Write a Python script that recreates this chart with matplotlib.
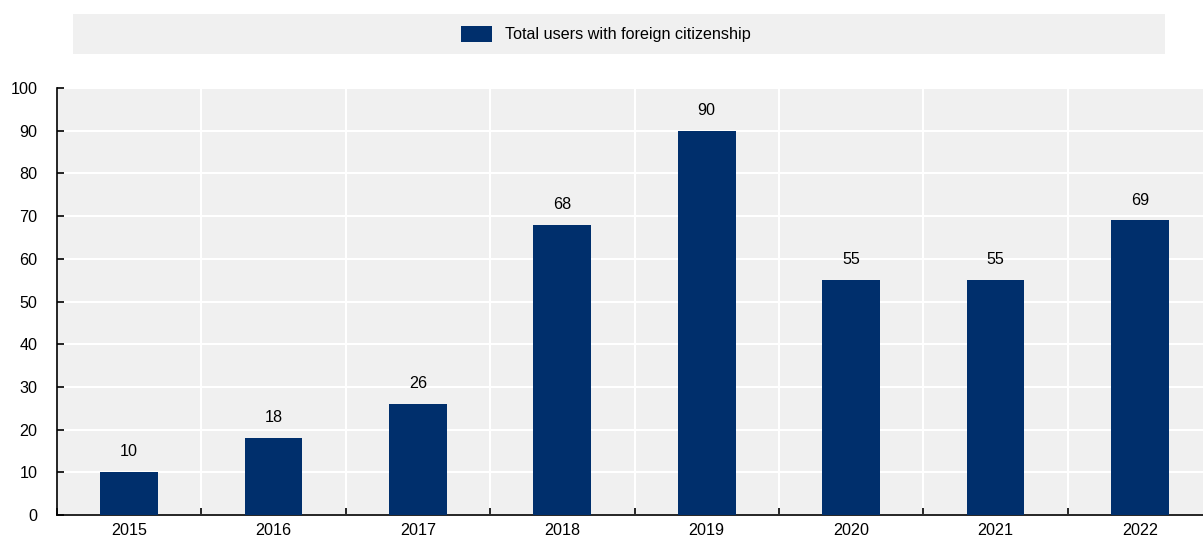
import numpy as np
import matplotlib.pyplot as plt
from matplotlib.patches import Rectangle

plt.rcParams['font.family'] = ['Liberation Sans', 'DejaVu Sans']

years = ['2015', '2016', '2017', '2018', '2019', '2020', '2021', '2022']
users = [10, 18, 26, 68, 90, 55, 55, 69]
series_name = 'Total users with foreign citizenship'

FS = 11.6
W, H = 1203, 539
fig = plt.figure(figsize=(W / 100, H / 100), dpi=100)

# plot area, right edge runs slightly past the figure
left, right, top, bottom = 57, 1212, 88, 515
ax = fig.add_axes([left / W, 1 - bottom / H, (right - left) / W, (bottom - top) / H])
ax.set_facecolor('#f0f0f0')

x = np.arange(len(years))
ax.bar(x, users, width=0.4, color='#002f6c', zorder=3)
for xi, v in zip(x, users):
    ax.text(xi, v + 3, str(v), ha='center', va='bottom', fontsize=FS, color='#000000')

ax.set_xlim(-0.5, len(years) - 0.5)
ax.set_ylim(0, 100)
ax.set_yticks(range(0, 101, 10))
ax.set_xticks(x)
ax.set_xticklabels(years)
ax.set_xticks(np.arange(len(years) + 1) - 0.5, minor=True)

ax.grid(axis='y', color='white', linewidth=1.5, zorder=1)
ax.grid(axis='x', which='minor', color='white', linewidth=1.5, zorder=1)

for s in ['top', 'right']:
    ax.spines[s].set_visible(False)
for s in ['left', 'bottom']:
    ax.spines[s].set_linewidth(1.2)
    ax.spines[s].set_color('black')

ax.tick_params(axis='y', direction='in', length=5, width=1.2, labelsize=FS, pad=14)
ax.tick_params(axis='x', which='major', length=0, labelsize=FS, pad=6)
ax.tick_params(axis='x', which='minor', direction='in', length=5, width=1.2)

# legend strip
fig.patches.append(Rectangle((73 / W, 1 - 54 / H), (1165 - 73) / W, 40 / H,
                             transform=fig.transFigure, facecolor='#f0f0f0',
                             edgecolor='none'))
fig.patches.append(Rectangle((461 / W, 1 - 42 / H), 31 / W, 16 / H,
                             transform=fig.transFigure, facecolor='#002f6c',
                             edgecolor='none'))
fig.text(505 / W, 1 - 34 / H, series_name, ha='left', va='center', fontsize=FS)

fig.savefig('out.png', dpi=100)
